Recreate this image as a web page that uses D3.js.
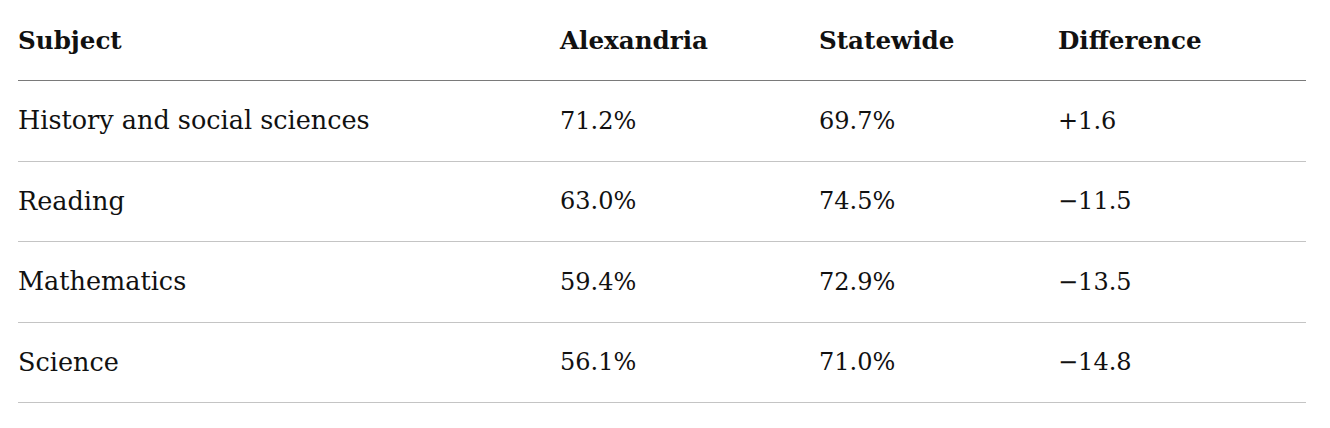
<!DOCTYPE html>
<html>
<head>
<meta charset="utf-8">
<script src="https://cdn.jsdelivr.net/npm/d3@7"></script>
<style>
  html, body { margin: 0; padding: 0; background: #fff; }
  svg { display: block; }
</style>
</head>
<body>
<div id="chart"></div>
<script>
// 表格数据
const columns = ['Subject', 'Alexandria', 'Statewide', 'Difference'];
const subjects = ['History and social sciences', 'Reading', 'Mathematics', 'Science'];
const alexandria = [71.2, 63.0, 59.4, 56.1];
const statewide = [69.7, 74.5, 72.9, 71.0];
const difference = [1.6, -11.5, -13.5, -14.8];

const width = 1330;
const height = 428;
const left = 18, right = 1306;
const headerBottom = 80, tableBottom = 402;

const svg = d3.select('#chart')
  .append('svg')
  .attr('width', width)
  .attr('height', height);

const fontFamily = '"DejaVu Serif", "Liberation Serif", serif';

// 列位置
const colX = d3.scaleOrdinal()
  .domain(columns)
  .range([left, 560, 819, 1058]);

// 行位置
const y = d3.scaleBand()
  .domain(subjects)
  .range([headerBottom, tableBottom]);

const rows = subjects.map((s, i) => ({
  Subject: s,
  Alexandria: alexandria[i].toFixed(1) + '%',
  Statewide: statewide[i].toFixed(1) + '%',
  Difference: (difference[i] >= 0 ? '+' : '\u2212') + Math.abs(difference[i]).toFixed(1)
}));

// 表头
svg.append('g')
  .selectAll('text')
  .data(columns)
  .join('text')
  .attr('x', d => colX(d))
  .attr('y', headerBottom / 2)
  .attr('dy', '0.35em')
  .style('font-family', fontFamily)
  .style('font-weight', 'bold')
  .style('font-size', '24.6px')
  .style('fill', '#111')
  .text(d => d);

svg.append('line')
  .attr('x1', left).attr('x2', right)
  .attr('y1', headerBottom + 0.5).attr('y2', headerBottom + 0.5)
  .attr('stroke', '#7a7a7a')
  .attr('stroke-width', 1);

// 行分隔线
svg.append('g')
  .selectAll('line')
  .data(subjects)
  .join('line')
  .attr('x1', left).attr('x2', right)
  .attr('y1', d => Math.round(y(d) + y.bandwidth()) + 0.5)
  .attr('y2', d => Math.round(y(d) + y.bandwidth()) + 0.5)
  .attr('stroke', '#c4c4c4')
  .attr('stroke-width', 1);

// 单元格
const rowG = svg.append('g')
  .selectAll('g')
  .data(rows)
  .join('g')
  .attr('transform', d => `translate(0,${y(d.Subject) + y.bandwidth() / 2})`);

rowG.selectAll('text')
  .data(d => columns.map(c => ({ col: c, value: d[c] })))
  .join('text')
  .attr('x', d => colX(d.col))
  .attr('dy', '0.35em')
  .style('font-family', fontFamily)
  .style('font-size', d => d.col === 'Subject' ? '25.5px' : '24px')
  .style('fill', '#111')
  .text(d => d.value);
</script>
</body>
</html>
